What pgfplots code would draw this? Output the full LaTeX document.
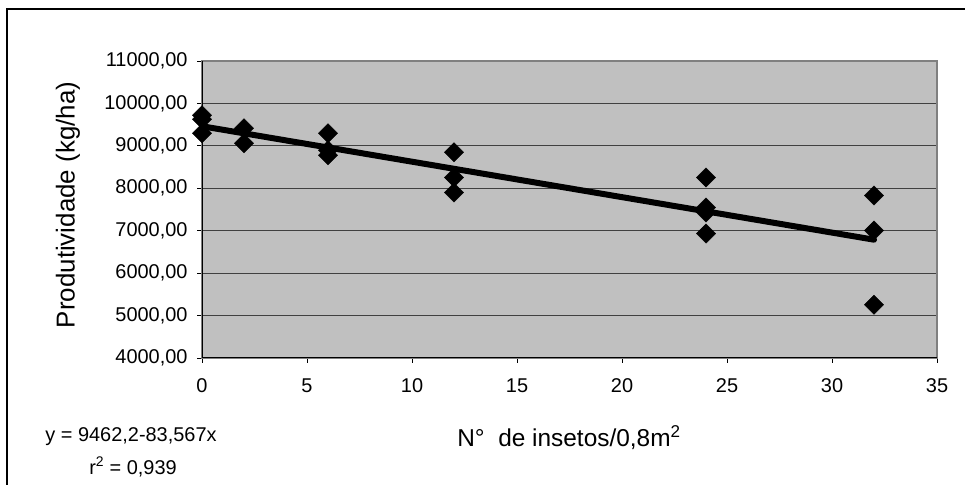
\documentclass[border=0pt]{standalone}
\usepackage{fontspec}
\setmainfont{Liberation Sans}
\usepackage{pgfplots}
\pgfplotsset{compat=1.18}
\definecolor{plotbg}{RGB}{192,192,192}
\definecolor{frameg}{RGB}{128,128,128}
\begin{document}
\begin{tikzpicture}[x=1bp,y=1bp]
\useasboundingbox (0,0) rectangle (965,485);
% outer chart frame
\draw[line width=1.3bp] (7,-5) -- (7,476) -- (970,476);
\begin{axis}[
    at={(202bp,127bp)}, anchor=south west,
    scale only axis, width=735bp, height=297bp,
    xmin=0, xmax=35, ymin=4000, ymax=11000,
    xtick={0,5,...,35},
    ytick={4000,5000,...,11000},
    scaled y ticks=false,
    yticklabels={{4000,00},{5000,00},{6000,00},{7000,00},{8000,00},{9000,00},{10000,00},{11000,00}},
    /pgf/number format/assume math mode=true,
    tick align=outside, xtick pos=bottom, ytick pos=left,
    major tick length=5bp,
    tick style={black, line width=0.8bp},
    ymajorgrids, grid style={black!75, line width=0.8bp},
    axis background/.style={fill=plotbg},
    axis line style={draw=frameg, line width=1.2bp},
    ticklabel style={font=\fontsize{20}{23}\selectfont},
    yticklabel style={xshift=-6bp},
    xticklabel style={yshift=-12bp},
    clip=false,
]
\draw[black, line width=1bp] (rel axis cs:0,1) -- (rel axis cs:0,0) -- (rel axis cs:1,0);
\addplot[black, line width=6bp, line cap=round] coordinates {(0,9462.2) (32,6788.06)};
\addplot[only marks, mark=square*, mark options={rotate=45, fill=black}, mark size=6.8bp] coordinates {
  (0,9722) (0,9628) (0,9297)
  (2,9415) (2,9060)
  (6,9297) (6,8895) (6,8777)
  (12,8847) (12,8256) (12,7902)
  (24,8256) (24,7547) (24,7429) (24,6932)
  (32,7831) (32,7003) (32,5253)
};
\end{axis}
\node[rotate=90, font=\fontsize{26}{30}\selectfont] at (68,280) {Produtividade (kg/ha)};
\node[font=\fontsize{24.5}{28}\selectfont] at (569,47) {N°\ \ de insetos/0,8m\textsuperscript{2}};
\node[font=\fontsize{20}{23}\selectfont] at (131,48) {y = 9462,2-83,567x};
\node[font=\fontsize{20}{23}\selectfont] at (133,18) {r\textsuperscript{2} = 0,939};
\end{tikzpicture}
\end{document}
